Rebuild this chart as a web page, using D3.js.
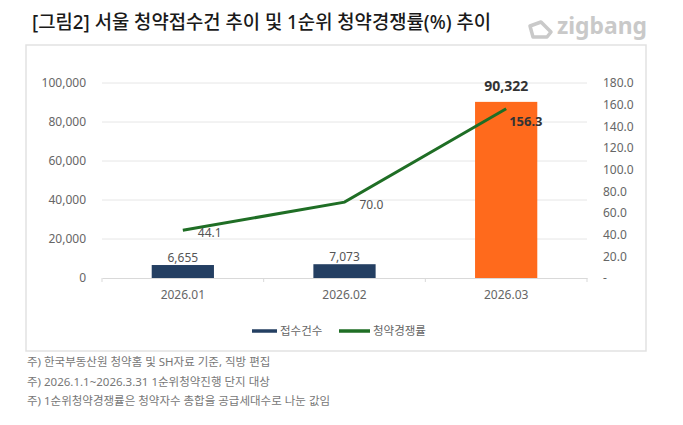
<!DOCTYPE html>
<html>
<head>
<meta charset="utf-8">
<script src="https://cdn.jsdelivr.net/npm/d3@7"></script>
<style>
  body { margin: 0; background: #fff; }
  text { font-family: "Noto Sans", "Noto Sans CJK KR", sans-serif; }
</style>
</head>
<body>
<div id="chart"></div>
<script>
// data
var months = ["2026.01", "2026.02", "2026.03"];
var applications = [6655, 7073, 90322];     // 접수건수
var ratio = [44.1, 70.0, 156.3];            // 청약경쟁률
var leftTicks = [0, 20000, 40000, 60000, 80000, 100000];
var rightTicks = [0, 20, 40, 60, 80, 100, 120, 140, 160, 180];
var footnotes = [
    "주) 한국부동산원 청약홈 및 SH자료 기준, 직방 편집",
    "주) 2026.1.1~2026.3.31 1순위청약진행 단지 대상",
    "주) 1순위청약경쟁률은 청약자수 총합을 공급세대수로 나눈 값임"
];

function init(){

    var w = 683;
    var h = 425;

    var svg = d3.select("#chart")
                .append("svg")
                .attr("width", w)
                .attr("height", h);

    // title + logo
    svg.append("text")
        .attr("x", 32)
        .attr("y", 29)
        .attr("font-family", "'Noto Sans CJK KR', sans-serif")
        .attr("font-size", 19)
        .attr("font-weight", 500)
        .attr("fill", "#1a1a1a")
        .attr("textLength", 459)
        .attr("lengthAdjust", "spacingAndGlyphs")
        .text("[그림2] 서울 청약접수건 추이 및 1순위 청약경쟁률(%) 추이");

    var logo = svg.append("g").attr("transform", "translate(527,20)");
    logo.append("path")
        .attr("d", "M3,6 L14,2 L24,12 L20,17 L6,17 Z")
        .attr("fill", "none")
        .attr("stroke", "#c9c9c9")
        .attr("stroke-width", 3.5)
        .attr("stroke-linejoin", "round");
    svg.append("text")
        .attr("x", 557)
        .attr("y", 34)
        .attr("font-size", 24)
        .attr("font-weight", 700)
        .attr("fill", "#c9c9c9")
        .attr("textLength", 90)
        .attr("lengthAdjust", "spacingAndGlyphs")
        .text("zigbang");

    // frame
    svg.append("rect")
        .attr("x", 26).attr("y", 45)
        .attr("width", 620).attr("height", 306)
        .attr("fill", "none")
        .attr("stroke", "#e2e2e2")
        .attr("stroke-width", 1.5);

    var left = 102, right = 587, top = 83, bottom = 278;

    var x = d3.scaleBand()
              .domain(months)
              .range([left, right]);

    var y = d3.scaleLinear()
              .domain([0, 100000])
              .range([bottom, top]);

    var y2 = d3.scaleLinear()
               .domain([0, 180])
               .range([bottom, top]);

    // gridlines
    svg.append("g")
        .selectAll("line")
        .data(leftTicks.slice(1))
        .enter()
        .append("line")
        .attr("x1", left).attr("x2", right)
        .attr("y1", function(d){ return y(d); })
        .attr("y2", function(d){ return y(d); })
        .attr("stroke", "#e6e6e6")
        .attr("stroke-width", 1);

    // left axis
    var yAxis = d3.axisLeft(y)
                  .tickValues(leftTicks)
                  .tickSize(0)
                  .tickPadding(0)
                  .tickFormat(d3.format(","));
    var gy = svg.append("g")
        .attr("transform", "translate(" + 86 + ",0)")
        .call(yAxis);
    gy.select(".domain").remove();
    gy.selectAll("text").attr("font-size", 12).attr("fill", "#666");

    // right axis
    var y2Axis = d3.axisRight(y2)
                   .tickValues(rightTicks)
                   .tickSize(0)
                   .tickPadding(0)
                   .tickFormat(function(d){ return d === 0 ? "-" : d3.format(".1f")(d); });
    var gy2 = svg.append("g")
        .attr("transform", "translate(" + 603 + ",0)")
        .call(y2Axis);
    gy2.select(".domain").remove();
    gy2.selectAll("text").attr("font-size", 12).attr("fill", "#666");

    // bars
    var barW = x.bandwidth() * 0.385;
    svg.selectAll("rect.bar")
        .data(applications)
        .enter()
        .append("rect")
        .attr("class", "bar")
        .attr("x", function(d, i){ return x(months[i]) + x.bandwidth()/2 - barW/2; })
        .attr("y", function(d){ return y(d); })
        .attr("width", barW)
        .attr("height", function(d){ return bottom - y(d); })
        .attr("fill", function(d, i){ return i === 2 ? "#ff6a1c" : "#243f62"; });

    // x axis line + ticks
    var xAxis = d3.axisBottom(x).tickSize(0).tickPadding(12);
    var gx = svg.append("g")
        .attr("transform", "translate(0," + bottom + ")")
        .call(xAxis);
    gx.select(".domain").attr("stroke", "#d9d9d9");
    gx.selectAll("text").attr("font-size", 12).attr("fill", "#666");
    gx.selectAll("line.sep")
        .data(d3.range(months.length + 1))
        .enter()
        .append("line")
        .attr("class", "sep")
        .attr("x1", function(i){ return left + i * x.step(); })
        .attr("x2", function(i){ return left + i * x.step(); })
        .attr("y1", 0).attr("y2", 4)
        .attr("stroke", "#d9d9d9");

    // bar labels
    svg.selectAll("text.barlabel")
        .data(applications)
        .enter()
        .append("text")
        .attr("class", "barlabel")
        .attr("x", function(d, i){ return x(months[i]) + x.bandwidth()/2; })
        .attr("y", function(d, i){ return y(d) - (i === 2 ? 11 : 3); })
        .attr("text-anchor", "middle")
        .attr("font-size", function(d, i){ return i === 2 ? 14 : 12; })
        .attr("font-weight", function(d, i){ return i === 2 ? 700 : 400; })
        .attr("fill", function(d, i){ return i === 2 ? "#333" : "#555"; })
        .text(d3.format(","));

    // line
    var line = d3.line()
                 .x(function(d, i){ return x(months[i]) + x.bandwidth()/2; })
                 .y(function(d){ return y2(d); });

    svg.append("path")
        .datum(ratio)
        .attr("d", line)
        .attr("fill", "none")
        .attr("stroke", "#1f6e25")
        .attr("stroke-width", 3);

    // line labels
    svg.selectAll("text.linelabel")
        .data(ratio)
        .enter()
        .append("text")
        .attr("class", "linelabel")
        .attr("x", function(d, i){ return x(months[i]) + x.bandwidth()/2 + (i === 2 ? 3 : 15); })
        .attr("y", function(d, i){ return y2(d) + (i === 2 ? 17 : 7); })
        .attr("font-size", function(d, i){ return i === 2 ? 13 : 12; })
        .attr("font-weight", function(d, i){ return i === 2 ? 700 : 400; })
        .attr("fill", function(d, i){ return i === 2 ? "#333" : "#555"; })
        .text(d3.format(".1f"));

    // legend
    var legend = [
        {name: "접수건수", color: "#243f62", x: 252, w: 25},
        {name: "청약경쟁률", color: "#1f6e25", x: 339, w: 31}
    ];
    var lg = svg.selectAll("g.legend")
        .data(legend)
        .enter()
        .append("g")
        .attr("class", "legend")
        .attr("transform", function(d){ return "translate(" + d.x + ",331)"; });
    lg.append("line")
        .attr("x1", 0).attr("x2", function(d){ return d.w; })
        .attr("stroke", function(d){ return d.color; })
        .attr("stroke-width", 3.5);
    lg.append("text")
        .attr("x", function(d){ return d.w + 3; })
        .attr("y", 4)
        .attr("font-size", 11.5)
        .attr("fill", "#666")
        .text(function(d){ return d.name; });

    // footnotes
    svg.selectAll("text.note")
        .data(footnotes)
        .enter()
        .append("text")
        .attr("class", "note")
        .attr("x", 27)
        .attr("y", function(d, i){ return 366 + i * 19.5; })
        .attr("font-size", 11.5)
        .attr("fill", "#777")
        .text(function(d){ return d; });
}

window.onload = init;
</script>
</body>
</html>
